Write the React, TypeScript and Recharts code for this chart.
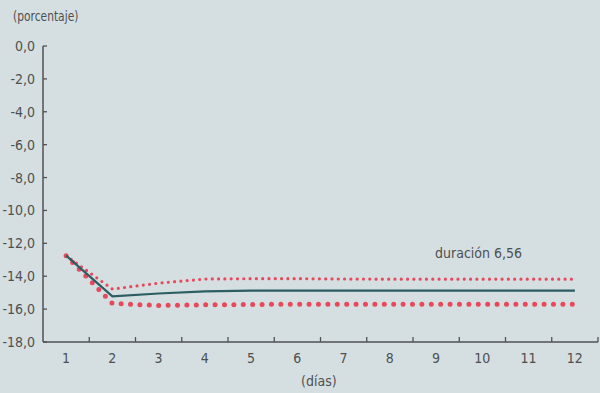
import React from "react"
import { LineChart, Line, XAxis, YAxis } from "recharts"

// días 1..12
const dias = [1, 2, 3, 4, 5, 6, 7, 8, 9, 10, 11, 12]
// duración 6,56 — central scenario
const central = [-12.75, -15.22, -15.05, -14.92, -14.88, -14.88, -14.88, -14.88, -14.88, -14.88, -14.88, -14.88]
// upper band (small dots)
const superior = [-12.75, -14.78, -14.42, -14.17, -14.15, -14.15, -14.17, -14.18, -14.18, -14.18, -14.18, -14.18]
// lower band (big dots)
const inferior = [-12.75, -15.65, -15.78, -15.74, -15.72, -15.7, -15.7, -15.7, -15.7, -15.7, -15.7, -15.7]
const yTicks = [0, -2, -4, -6, -8, -10, -12, -14, -16, -18]

const data = dias.map((d, i) => ({
  dia: d,
  central: central[i],
  superior: superior[i],
  inferior: inferior[i],
}))

const FONT = "'Liberation Sans Narrow', 'DejaVu Sans Condensed', sans-serif"
const TEXT = "#4d4f51"
const AXIS = "#505254"
const RED = "#e8485c"
const STEP = 555 / 12

const fmt = (v: number) => v.toFixed(1).replace(".", ",")

function XTick(props: any) {
  const { x, y, payload } = props
  return (
    <g>
      <line x1={x + STEP / 2} x2={x + STEP / 2} y1={342} y2={337} stroke={AXIS} strokeWidth={1.3} />
      <text x={x} y={y + 13} textAnchor="middle" fill={TEXT} fontSize={14} fontFamily={FONT}>
        {payload.value}
      </text>
    </g>
  )
}

function YTick(props: any) {
  const { y, payload } = props
  return (
    <g>
      <line x1={43} x2={47} y1={y} y2={y} stroke={AXIS} strokeWidth={1.3} />
      <text x={35} y={y + 5} textAnchor="end" fill={TEXT} fontSize={14} fontFamily={FONT}>
        {fmt(payload.value)}
      </text>
    </g>
  )
}

export default function App() {
  return (
    <div
      style={{
        position: "absolute",
        left: 0,
        top: 0,
        width: 600,
        height: 393,
        background: "#d5dfe1",
        fontFamily: FONT,
        color: TEXT,
      }}
    >
      <div
        style={{
          position: "absolute",
          left: 13,
          top: 8,
          fontSize: 14,
          transform: "scaleX(0.85)",
          transformOrigin: "left center",
        }}
      >
        (porcentaje)
      </div>
      <div style={{ position: "absolute", left: 435, top: 245, fontSize: 14 }}>duración 6,56</div>
      <div style={{ position: "absolute", left: 301, top: 373, fontSize: 14 }}>(días)</div>
      <LineChart width={600} height={393} data={data} margin={{ top: 46, right: 2, bottom: 0, left: 0 }}>
        <XAxis
          dataKey="dia"
          type="number"
          domain={[0.5, 12.5]}
          ticks={dias}
          height={51}
          tick={<XTick />}
          tickLine={false}
          axisLine={{ stroke: AXIS, strokeWidth: 1.5 }}
        />
        <YAxis
          type="number"
          domain={[-18, 0]}
          ticks={yTicks}
          width={43}
          tick={<YTick />}
          tickLine={false}
          axisLine={{ stroke: AXIS, strokeWidth: 1.5 }}
        />
        <Line
          dataKey="superior"
          type="linear"
          stroke={RED}
          strokeWidth={3.2}
          strokeDasharray="0 6.3"
          strokeLinecap="round"
          dot={false}
          isAnimationActive={false}
        />
        <Line
          dataKey="inferior"
          type="linear"
          stroke={RED}
          strokeWidth={5}
          strokeDasharray="0 9.4"
          strokeLinecap="round"
          dot={false}
          isAnimationActive={false}
        />
        <Line
          dataKey="central"
          type="linear"
          stroke="#2b5d61"
          strokeWidth={2.2}
          dot={false}
          isAnimationActive={false}
        />
      </LineChart>
    </div>
  )
}
